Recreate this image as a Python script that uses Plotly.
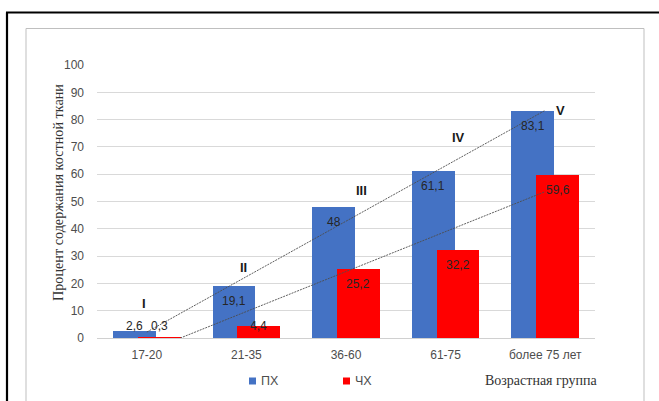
import numpy as np
import plotly.graph_objects as go

# ---- data -------------------------------------------------------------
categories = ["17-20", "21-35", "36-60", "61-75", "более 75 лет"]
px_values = [2.6, 19.1, 48, 61.1, 83.1]     # ПХ
chx_values = [0.3, 4.4, 25.2, 32.2, 59.6]   # ЧХ
series_names = ["ПХ", "ЧХ"]
group_marks = ["I", "II", "III", "IV", "V"]
y_ticks = list(range(0, 101, 10))

# ---- geometry / style ---------------------------------------------------
W, H = 659, 401
L, R, T, B = 97, 64, 65, 63
BLUE, RED = "#4472C4", "#FF0000"
SANS, SERIF = "Liberation Sans", "Liberation Serif"
BAR_W = 0.43
OFFSETS = [-0.34, -0.09]


def fx(p):
    """pixel x -> paper x"""
    return (p - L) / (W - L - R)


def fy(p):
    """pixel y -> paper y"""
    return (H - B - p) / (H - T - B)


def fmt(v):
    return f"{v:g}".replace(".", ",")


x = np.arange(len(categories))
fig = go.Figure()

series = [px_values, chx_values]
colors = [BLUE, RED]
for name, vals, col, off in zip(series_names, series, colors, OFFSETS):
    fig.add_trace(go.Bar(
        x=x, y=vals, name=name, width=BAR_W, offset=off,
        marker=dict(color=col, line=dict(width=0)),
        showlegend=False, hoverinfo="y",
    ))

# linear trend lines for each series
for vals in series:
    k, b = np.polyfit(x, vals, 1)
    xs = np.array([x[0], x[-1]], dtype=float)
    fig.add_trace(go.Scatter(
        x=xs, y=k * xs + b, mode="lines",
        line=dict(color="#4D4D4D", width=0.9, dash="2px,1px"),
        showlegend=False, hoverinfo="skip",
    ))

annotations = []
# value labels at the inner end of each bar
for vals, off in zip(series, OFFSETS):
    for i, v in enumerate(vals):
        annotations.append(dict(
            x=i + off + BAR_W / 2, y=max(v - 5.5, 4.3), xref="x", yref="y",
            xanchor="center", yanchor="middle",
            text=fmt(v), showarrow=False,
            font=dict(family=SANS, size=12, color="#262626"),
        ))

# Roman numerals marking the age groups
mark_pos = [(-0.03, 12.8), (0.97, 25.9), (2.16, 54), (3.13, 73.4), (4.15, 83.4)]
for m, (mx, my) in zip(group_marks, mark_pos):
    annotations.append(dict(
        x=mx, y=my, xref="x", yref="y", xanchor="center", yanchor="middle",
        text=f"<b>{m}</b>", showarrow=False,
        font=dict(family=SANS, size=13, color="#1A1A1A"),
    ))

# axis titles
annotations.append(dict(
    x=fx(58), y=fy(193), xref="paper", yref="paper",
    xanchor="center", yanchor="middle",
    text="Процент содержания костной ткани", textangle=-90, showarrow=False,
    font=dict(family=SERIF, size=14.2, color="#333333"),
))
annotations.append(dict(
    x=fx(483), y=fy(381), xref="paper", yref="paper",
    xanchor="left", yanchor="middle",
    text="Возрастная группа", showarrow=False,
    font=dict(family=SERIF, size=14, color="#333333"),
))

# legend
shapes = []
for name, col, lx in zip(series_names, colors, [249, 343]):
    shapes.append(dict(
        type="rect", xref="paper", yref="paper",
        x0=fx(lx), x1=fx(lx + 7), y0=fy(384.5), y1=fy(377.5),
        fillcolor=col, line=dict(width=0),
    ))
    annotations.append(dict(
        x=fx(lx + 10), y=fy(381), xref="paper", yref="paper",
        xanchor="left", yanchor="middle",
        text=name, showarrow=False,
        font=dict(family=SANS, size=12.5, color="#4D4D4D"),
    ))

# outer frames
shapes.append(dict(type="rect", xref="paper", yref="paper",
                   x0=fx(26), x1=fx(644), y0=fy(420), y1=fy(28.5),
                   line=dict(color="#BFBFBF", width=1), layer="below"))
shapes.append(dict(type="line", xref="paper", yref="paper",
                   x0=fx(6), x1=fx(670), y0=fy(12.5), y1=fy(12.5),
                   line=dict(color="#000000", width=2.2)))
shapes.append(dict(type="line", xref="paper", yref="paper",
                   x0=fx(7), x1=fx(7), y0=fy(12.5), y1=fy(420),
                   line=dict(color="#000000", width=2.2)))

fig.update_layout(
    width=W, height=H,
    margin=dict(l=L, r=R, t=T, b=B, pad=0),
    paper_bgcolor="white", plot_bgcolor="white",
    barmode="overlay", bargap=0,
    showlegend=False,
    annotations=annotations, shapes=shapes,
    font=dict(family=SANS, size=12, color="#4D4D4D"),
    xaxis=dict(
        range=[-0.5, len(categories) - 0.5],
        tickmode="array", tickvals=list(x), ticktext=categories,
        showgrid=False, zeroline=False,
        showline=True, linecolor="#D0D0D0", linewidth=1,
        ticks="", ticklabelstandoff=6,
        tickfont=dict(family=SANS, size=12, color="#4D4D4D"),
        fixedrange=True,
    ),
    yaxis=dict(
        range=[0, 100], tickmode="array", tickvals=y_ticks,
        showgrid=True, gridcolor="#D9D9D9", gridwidth=1,
        zeroline=False, showline=False, ticks="", ticklabelstandoff=12,
        tickfont=dict(family=SANS, size=12, color="#4D4D4D"),
        fixedrange=True,
    ),
)

fig.write_html("out.html")
